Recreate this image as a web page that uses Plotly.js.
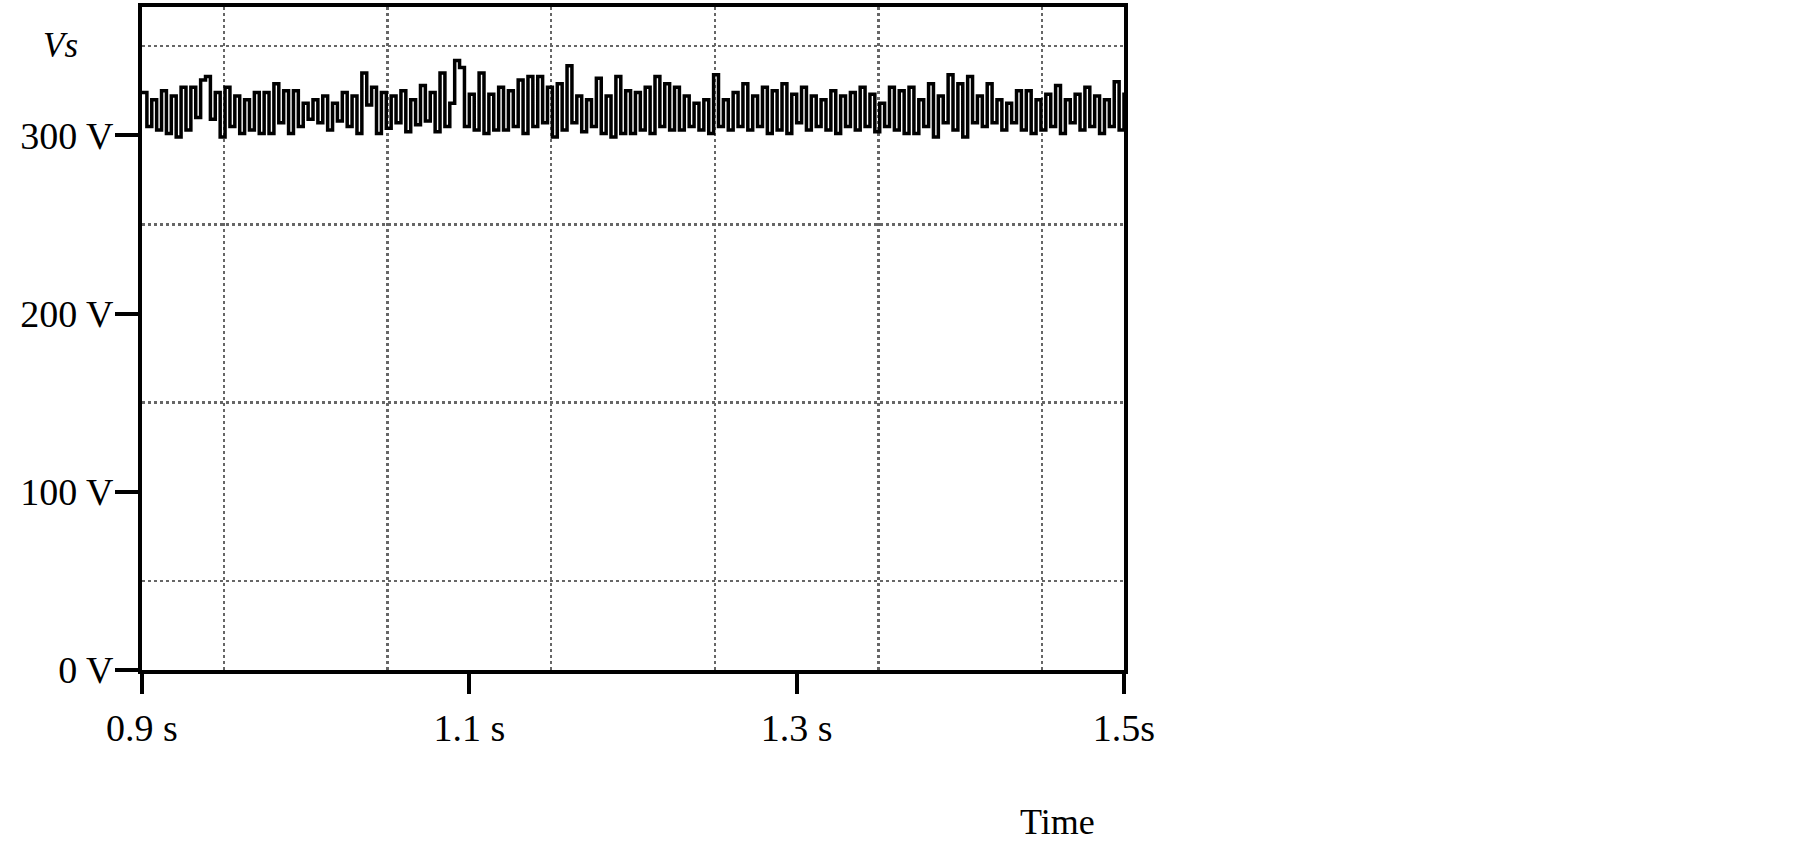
<!DOCTYPE html>
<html>
<head>
<meta charset="utf-8">
<script src="https://cdn.plot.ly/plotly-3.0.1.min.js"></script>
<style>
  body { margin: 0; background: #fff; }
  #chart { width: 1805px; height: 844px; }
</style>
</head>
<body>
<div id="chart"></div>
<script>
// Vs, left to right, 0.9 s .. 1.5 s
const vs = [
    324, 305, 320, 303, 325, 301, 322, 299, 327, 303, 327, 310, 331, 333, 309, 324, 299, 327, 305, 322,
    301, 320, 303, 324, 301, 324, 301, 329, 307, 325, 301, 325, 305, 318, 309,
    320, 307, 322, 303, 318, 308, 324, 305, 322, 301, 335, 317, 327, 301, 324, 304, 322, 307, 325, 302,
    320, 306, 328, 308, 324, 302, 335, 305, 318, 342,
    338, 305, 323, 303, 335, 301, 323, 303, 327, 303, 325, 305, 331, 301, 333, 305, 333, 307, 327, 299,
    329, 303, 339, 307, 322, 302, 320, 305,
    332, 301, 322, 299, 333, 301, 325, 301, 324, 303, 327, 301, 333, 305, 329, 303, 327, 303, 322, 305,
    318, 303, 320, 301, 334, 305, 320, 303,
    324, 305, 329, 303, 322, 305, 327, 301, 325, 303, 329, 301, 323, 307, 327, 303, 322, 305, 320, 303,
    325, 301, 322, 305, 324, 303, 327, 305, 323, 302,
    318, 305, 327, 303, 325, 301, 327, 301, 320, 305, 329, 299, 322, 307, 334, 303, 329, 299, 333, 307,
    322, 305, 329, 307, 320, 303, 318, 307, 325, 303, 325, 301,
    320, 303, 323, 305, 328, 301, 320, 307, 323, 303, 327, 305, 322, 301, 320, 305, 330, 303, 324
];
const tStart = 0.9;
const tEnd = 1.5;

const xTickVals = [0.9, 1.1, 1.3, 1.5];
const xTickText = ['0.9 s', '1.1 s', '1.3 s', '1.5s'];
const xGrid = [0.95, 1.05, 1.15, 1.25, 1.35, 1.45];
const yTickVals = [0, 100, 200, 300];
const yTickText = ['0 V', '100 V', '200 V', '300 V'];
const yGrid = [50, 150, 250, 350];

const ts = [];
const step = (tEnd - tStart) / (vs.length - 1);
for (let i = 0; i < vs.length; i++) {
    ts.push(tStart + i * step);
}

const serif = 'Liberation Serif, Times New Roman, serif';
const gridStyle = {
    showgrid: true,
    gridcolor: '#666',
    gridwidth: 2.5,
    griddash: 'dot',
    ticks: '',
};

Plotly.newPlot('chart', [{
    x: ts,
    y: vs,
    mode: 'lines',
    line: {color: '#000', width: 3.5, shape: 'hv'},
    hoverinfo: 'skip',
}], {
    width: 1805,
    height: 844,
    margin: {l: 142, r: 681, t: 7, b: 174},
    paper_bgcolor: '#fff',
    plot_bgcolor: '#fff',
    showlegend: false,
    font: {family: serif, color: '#000', size: 38},
    xaxis: {
        range: [tStart, tEnd],
        tickmode: 'array',
        tickvals: xTickVals,
        ticktext: xTickText,
        ticks: 'outside',
        ticklen: 20,
        tickwidth: 4,
        tickcolor: '#000',
        ticklabelstandoff: 1,
        showgrid: false,
        zeroline: false,
        showline: true,
        mirror: true,
        linecolor: '#000',
        linewidth: 4,
        minor: Object.assign({tickmode: 'array', tickvals: xGrid}, gridStyle),
    },
    yaxis: {
        range: [0, 372],
        tickmode: 'array',
        tickvals: yTickVals,
        ticktext: yTickText,
        ticks: 'outside',
        ticklen: 23,
        tickwidth: 4,
        tickcolor: '#000',
        ticklabelstandoff: -6,
        showgrid: false,
        zeroline: false,
        showline: true,
        mirror: true,
        linecolor: '#000',
        linewidth: 4,
        minor: Object.assign({tickmode: 'array', tickvals: yGrid}, gridStyle),
    },
    annotations: [
        {
            text: '<i>Vs</i>',
            xref: 'paper', yref: 'paper',
            x: -0.103, y: 0.975,
            showarrow: false,
            font: {family: serif, size: 35, color: '#000'},
        },
        {
            text: 'Time',
            xref: 'paper', yref: 'paper',
            x: 0.972, y: -0.262,
            showarrow: false,
            font: {family: serif, size: 36, color: '#000'},
        },
    ],
}, {displayModeBar: false, staticPlot: true});
</script>
</body>
</html>
